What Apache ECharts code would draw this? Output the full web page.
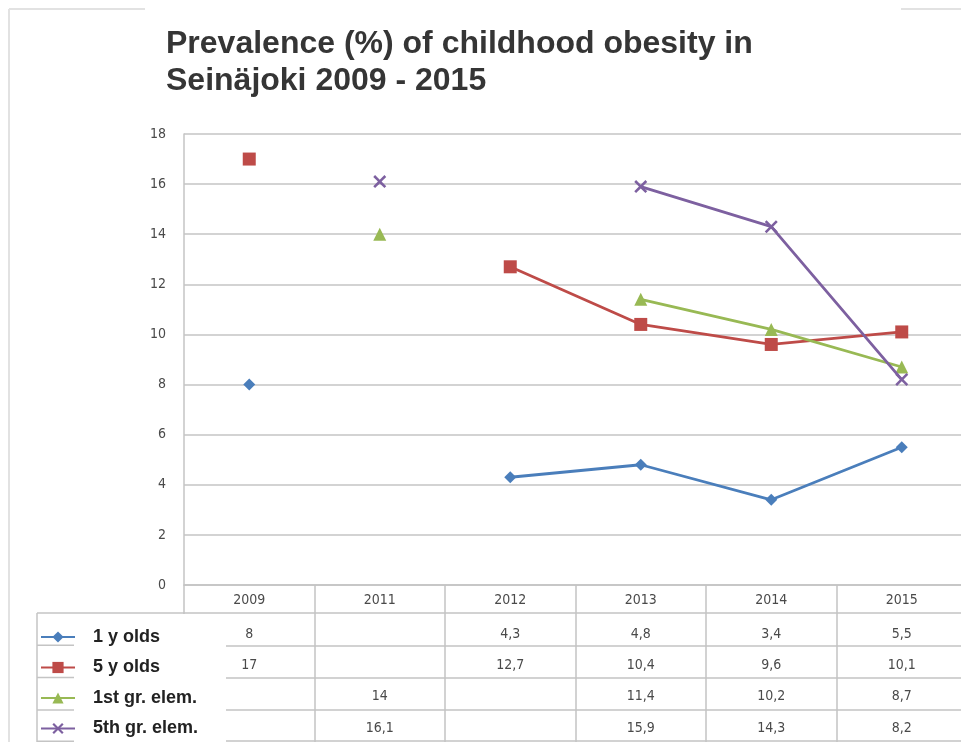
<!DOCTYPE html>
<html>
<head>
<meta charset="utf-8">
<script src="https://cdn.jsdelivr.net/npm/echarts@6/dist/echarts.min.js"></script>
<style>
html,body{margin:0;padding:0;background:#fff;overflow:hidden;}
#c{width:970px;height:742px;}
</style>
</head>
<body>
<div id="c"></div>
<script>
const years = ['2009','2011','2012','2013','2014','2015'];
const seriesNames = ['1 y olds','5 y olds','1st gr. elem.','5th gr. elem.'];
const oneYear = [8, null, 4.3, 4.8, 3.4, 5.5];
const fiveYear = [17, null, 12.7, 10.4, 9.6, 10.1];
const firstGrade = [null, 14, null, 11.4, 10.2, 8.7];
const fifthGrade = [null, 16.1, null, 15.9, 14.3, 8.2];
const yTicks = [0, 2, 4, 6, 8, 10, 12, 14, 16, 18];
const titleText = 'Prevalence (%) of childhood obesity in\nSeinäjoki 2009 - 2015';

const allData = [oneYear, fiveYear, firstGrade, fifthGrade];
const colors = ['#4a7ebb', '#be4b48', '#98b954', '#7d60a0'];
const xSymbol = 'path://M0,1.4L1.4,0L5,3.6L8.6,0L10,1.4L6.4,5L10,8.6L8.6,10L5,6.4L1.4,10L0,8.6L3.6,5Z';
const symbols = ['diamond', 'rect', 'triangle', xSymbol];
const symbolSizes = [12, 13, 13, 13];

const GRID_LEFT = 184, GRID_TOP = 134, GRID_W = 783, GRID_H = 451;
const ROW_H = 32.3;
const HEADER_H = 28;
const LEGEND_STEP = 30.5;
const gridLineColor = '#c4c4c4';
const tableFont = "'Liberation Sans Narrow','DejaVu Sans Condensed',sans-serif";

const fmt = v => (v === null || v === undefined) ? '' : String(v).replace('.', ',');

const xAxes = [{
  type: 'category',
  data: years,
  position: 'bottom',
  boundaryGap: true,
  axisLine: { show: true, lineStyle: { color: gridLineColor, width: 1.5 } },
  axisTick: { show: true, interval: 0, length: HEADER_H + ROW_H * 4, lineStyle: { color: gridLineColor, width: 1.5 } },
  axisLabel: { show: true, interval: 0, color: '#4a4a4a', fontSize: 14, fontFamily: tableFont, margin: 8 }
}];
allData.forEach((arr, i) => {
  xAxes.push({
    type: 'category',
    data: years,
    position: 'bottom',
    offset: HEADER_H + ROW_H * i,
    boundaryGap: true,
    axisLine: { show: true, lineStyle: { color: gridLineColor, width: 1.5 } },
    axisTick: { show: false },
    axisLabel: { show: true, interval: 0, color: '#4a4a4a', fontSize: 14, fontFamily: tableFont, margin: 14 - i,
      formatter: (val, idx) => fmt(arr[idx]) }
  });
});
xAxes.push({
  type: 'category', data: years, position: 'bottom', offset: HEADER_H + ROW_H * 4 - 1,
  axisLine: { show: true, lineStyle: { color: gridLineColor, width: 1.5 } },
  axisTick: { show: false }, axisLabel: { show: false }
});

const series = allData.map((arr, i) => ({
  name: seriesNames[i],
  type: 'line',
  data: arr.map(v => v === null ? '-' : v),
  connectNulls: false,
  symbol: symbols[i],
  symbolSize: symbolSizes[i],
  showAllSymbol: true,
  color: colors[i],
  lineStyle: { width: 2.8, color: colors[i] },
  itemStyle: { color: colors[i] },
  z: 3 + i
}));

const tableTop = GRID_TOP + GRID_H + HEADER_H;

const legends = seriesNames.map((name, i) => ({
  orient: 'horizontal',
  left: 35, top: tableTop + 10 + LEGEND_STEP * i,
  itemWidth: 34, itemHeight: 14,
  z: 30,
  data: [name],
  textStyle: { fontFamily: "'Liberation Sans', Arial, sans-serif", fontWeight: 'bold', fontSize: 18, color: '#222', padding: [0, 0, 0, 13] },
  selectedMode: false
}));

const legendLines = [];
for (let r = 0; r <= 4; r++) {
  const y = tableTop + ROW_H * r - (r === 4 ? 1 : 0);
  legendLines.push({ type: 'line', shape: { x1: 37, y1: y, x2: GRID_LEFT, y2: y }, style: { stroke: gridLineColor, lineWidth: 1.5 }, z: 1 });
}
legendLines.push({ type: 'line', shape: { x1: 37, y1: tableTop, x2: 37, y2: 742 }, style: { stroke: gridLineColor, lineWidth: 1.5 }, z: 1 });

const chart = echarts.init(document.getElementById('c'), null, { renderer: 'canvas' });
chart.setOption({
  backgroundColor: '#fff',
  animation: false,
  title: {
    text: titleText,
    left: 161, top: 21,
    textStyle: { fontFamily: "'Liberation Sans', Arial, sans-serif", fontWeight: 'bold', fontSize: 32, lineHeight: 37, color: '#353535' }
  },
  legend: legends,
  grid: { left: GRID_LEFT, top: GRID_TOP, width: GRID_W, height: GRID_H, containLabel: false },
  xAxis: xAxes,
  yAxis: {
    type: 'value',
    min: yTicks[0], max: yTicks[yTicks.length - 1], interval: 2,
    axisLine: { show: true, lineStyle: { color: gridLineColor, width: 1.5 } },
    axisTick: { show: false },
    axisLabel: { color: '#4a4a4a', fontSize: 14, fontFamily: tableFont, margin: 18 },
    splitLine: { show: true, lineStyle: { color: gridLineColor, width: 1.5 } }
  },
  graphic: [
    { type: 'line', shape: { x1: 9, y1: 9, x2: 9, y2: 742 }, style: { stroke: '#e2e2e2', lineWidth: 2 }, z: 1 },
    { type: 'line', shape: { x1: 9, y1: 9, x2: 145, y2: 9 }, style: { stroke: '#e2e2e2', lineWidth: 2 }, z: 1 },
    { type: 'line', shape: { x1: 901, y1: 9, x2: 970, y2: 9 }, style: { stroke: '#e2e2e2', lineWidth: 2 }, z: 1 },
    ...legendLines,
    { type: 'rect', shape: { x: 74, y: tableTop + 1, width: 152, height: 742 - tableTop }, style: { fill: '#fff' }, z: 20 }
  ],
  series: series
});
</script>
</body>
</html>
